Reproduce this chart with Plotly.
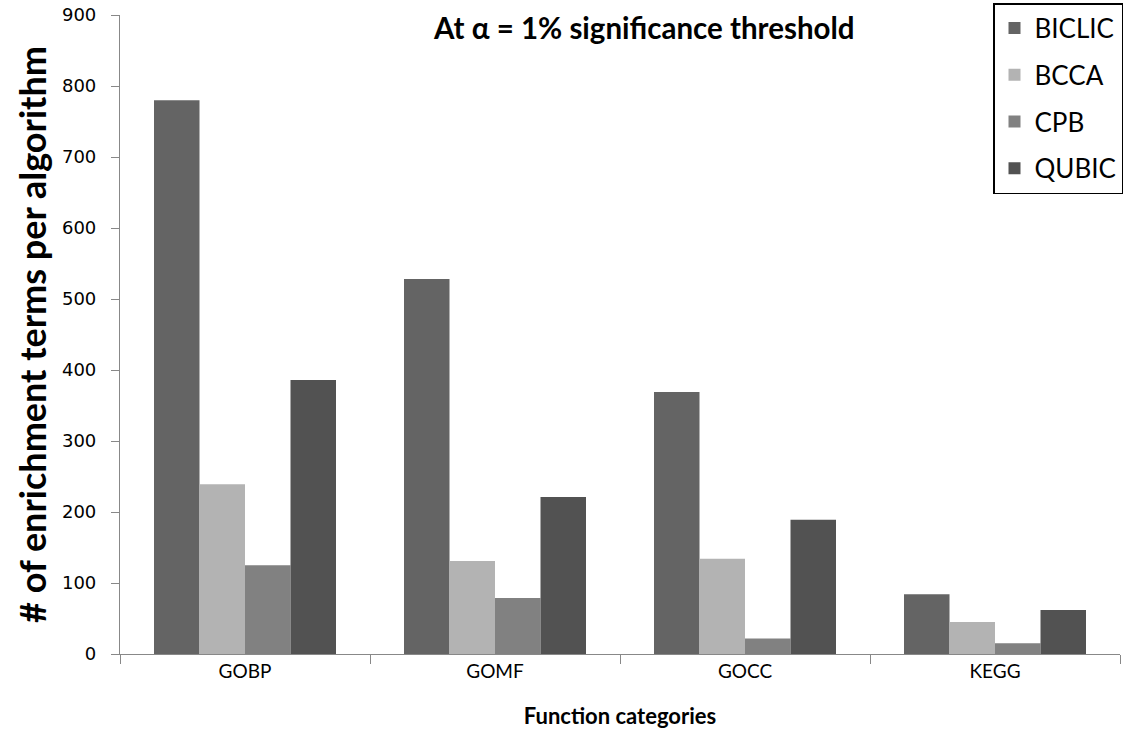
import plotly.graph_objects as go

categories = ["GOBP", "GOMF", "GOCC", "KEGG"]
series_names = ["BICLIC", "BCCA", "CPB", "QUBIC"]
biclic = [780, 528, 369, 84]
bcca = [239, 131, 134, 45]
cpb = [125, 79, 22, 15]
qubic = [386, 221, 189, 62]
y_ticks = [0, 100, 200, 300, 400, 500, 600, 700, 800, 900]

colors = ["#646464", "#b3b3b3", "#818181", "#525252"]
values = [biclic, bcca, cpb, qubic]

W, H = 1131, 746

fig = go.Figure()
for name, vals, col in zip(series_names, values, colors):
    fig.add_trace(go.Bar(x=categories, y=vals, name=name, legendgroup=name,
                         marker=dict(color=col, line=dict(width=0))))

fig.update_layout(
    width=W, height=H,
    margin=dict(l=120, r=11, t=15, b=92, autoexpand=False),
    paper_bgcolor="white", plot_bgcolor="white",
    barmode="group", bargap=0.272, bargroupgap=0,
    showlegend=True,
    legend=dict(
        xref="container", yref="container",
        x=993 / W, y=1 - 3 / H, xanchor="left", yanchor="top",
        bordercolor="black", borderwidth=1.5, bgcolor="white",
        font=dict(family="Lato, Open Sans, sans-serif", size=26, color="black"),
        tracegroupgap=10, traceorder="grouped", itemwidth=30,
    ),
    annotations=[dict(
        text="<b>At α = 1% significance threshold</b>",
        xref="paper", yref="paper", x=(644 - 120) / 1000, y=(654 - 28) / 639,
        xanchor="center", yanchor="middle", showarrow=False,
        font=dict(family="Lato, Open Sans, sans-serif", size=29.5, color="black"),
    )],
)
fig.update_yaxes(
    range=[0, 900], tickvals=y_ticks, showgrid=False, zeroline=False,
    showline=True, linecolor="#888888", linewidth=1.2, automargin=False,
    ticks="outside", ticklen=8, tickcolor="#888888",
    ticklabeloverflow="allow", ticklabelstandoff=11,
    tickfont=dict(family="DejaVu Sans", size=18, color="black"),
    title=dict(text="<b># of enrichment terms per algorithm</b>",
               font=dict(family="Lato, Open Sans, sans-serif", size=36, color="black"), standoff=4),
)
fig.update_xaxes(
    showgrid=False, showline=True, linecolor="#888888", linewidth=1.2, automargin=False,
    ticks="outside", ticklen=9, tickcolor="#888888", tickson="boundaries",
    tickfont=dict(family="Lato, Open Sans, sans-serif", size=19, color="black"),
    title=dict(text="<b>Function categories</b>",
               font=dict(family="Lato, Open Sans, sans-serif", size=22, color="black"), standoff=27),
)

fig.write_html("out.html", config={"displayModeBar": False},
               post_script="document.body.style.margin='0';")
